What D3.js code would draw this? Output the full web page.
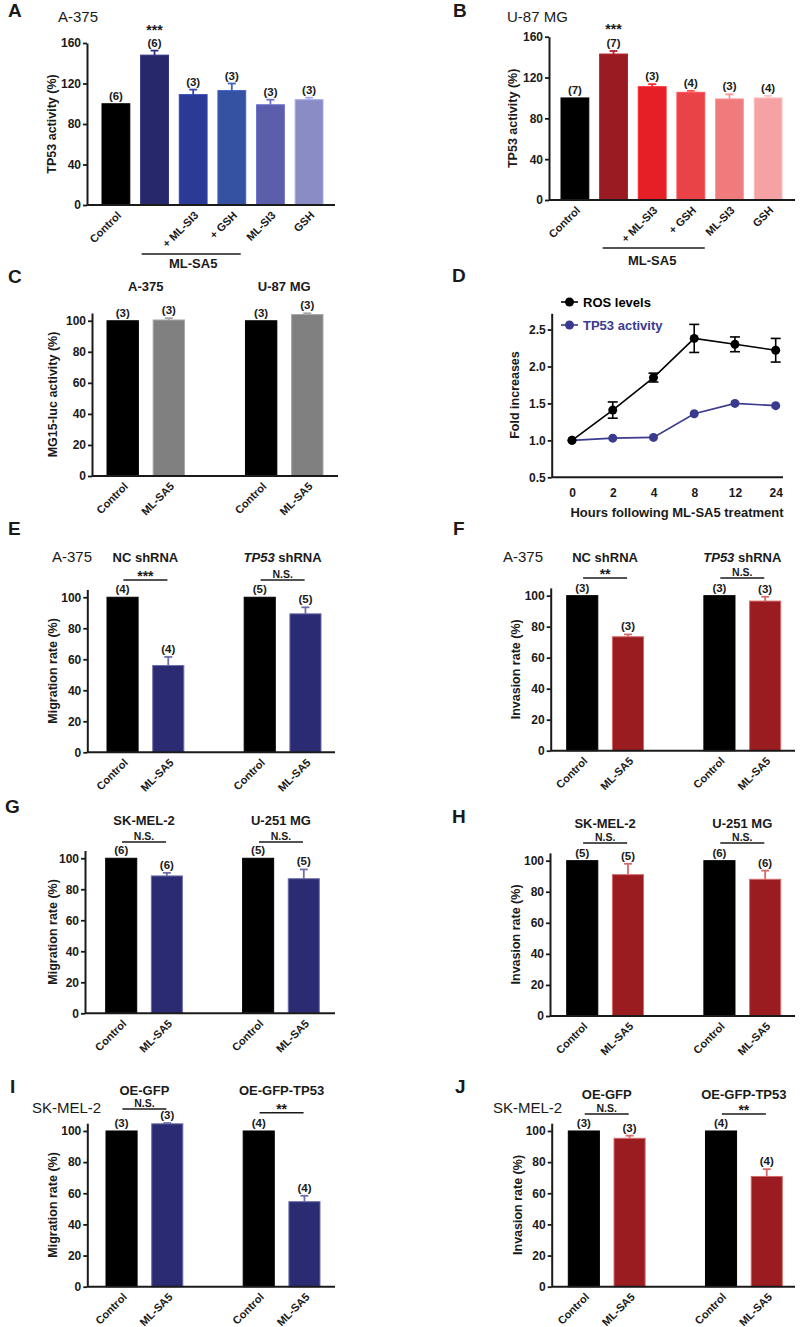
<!DOCTYPE html>
<html lang="en">
<meta charset="UTF-8">
<style>
    body{ margin:0; background:#fff; }
    svg{ display:block; font-family:"Liberation Sans", Arial, sans-serif; }
    .tick text{ font-weight:bold; font-size:12px; fill:#1a1a1a; }
    .tick line{ stroke:#1a1a1a; stroke-width:1.8px; }
    .domain{ stroke:#1a1a1a; stroke-width:2px; }
</style>
<body>
<svg width="800" height="1327" id="fig"></svg>
<script src="https://d3js.org/d3.v7.min.js"></script>
<script>
// ---------- data ----------
const aLabels = ["Control", "", "+ ML-SI3", "+ GSH", "ML-SI3", "GSH"];
const aValues = [100, 148, 109, 113, 99, 104];
const aErrors = [0, 4.5, 5, 7, 5, 2];
const aN = [6, 6, 3, 3, 3, 3];

const bLabels = ["Control", "", "+ ML-SI3", "+ GSH", "ML-SI3", "GSH"];
const bValues = [100, 143, 111, 105.5, 99, 100];
const bErrors = [0, 3, 2.5, 1.5, 4.5, 2];
const bN = [7, 7, 3, 4, 3, 4];

const pairLabels = ["Control", "ML-SA5"];

const cGroups = ["A-375", "U-87 MG"];
const cValues = [100, 100.5, 100, 104];
const cErrors = [0, 1.2, 0, 0.8];
const cN = [3, 3, 3, 3];

const dHours = ["0", "2", "4", "8", "12", "24"];
const dSeries = ["ROS levels", "TP53 activity"];
const dRos = [1.0, 1.41, 1.85, 2.38, 2.30, 2.22];
const dRosErr = [0, 0.11, 0.06, 0.19, 0.10, 0.16];
const dTp53 = [1.0, 1.03, 1.04, 1.36, 1.50, 1.47];
const dTp53Err = [0, 0.01, 0.01, 0.02, 0.02, 0.01];
const dTicks = [0.5, 1.0, 1.5, 2.0, 2.5];

const eGroups = ["NC shRNA", "TP53 shRNA"];
const eValues = [100, 56, 100, 89.3];
const eErrors = [0, 5.5, 0, 4.2];
const eN = [4, 4, 5, 5];
const eSig = ["***", "N.S."];

const fGroups = ["NC shRNA", "TP53 shRNA"];
const fValues = [100, 73.5, 100, 96.5];
const fErrors = [0, 1.5, 0, 2.8];
const fN = [3, 3, 3, 3];
const fSig = ["**", "N.S."];

const gGroups = ["SK-MEL-2", "U-251 MG"];
const gValues = [100, 88.6, 100, 86.8];
const gErrors = [0, 2, 0, 6];
const gN = [6, 6, 5, 5];
const gSig = ["N.S.", "N.S."];

const hGroups = ["SK-MEL-2", "U-251 MG"];
const hValues = [100, 91, 100, 88];
const hErrors = [0, 7, 0, 5.6];
const hN = [5, 5, 6, 6];
const hSig = ["N.S.", "N.S."];

const iGroups = ["OE-GFP", "OE-GFP-TP53"];
const iValues = [100, 104.6, 100, 54.6];
const iErrors = [0, 0.5, 0, 3.8];
const iN = [3, 3, 4, 4];
const iSig = ["N.S.", "**"];

const jGroups = ["OE-GFP", "OE-GFP-TP53"];
const jValues = [100, 95.3, 100, 70.8];
const jErrors = [0, 1.7, 0, 4.7];
const jN = [3, 3, 4, 4];
const jSig = ["N.S.", "**"];

const ticks160 = [0, 40, 80, 120, 160];
const ticks100 = [0, 20, 40, 60, 80, 100];

// ---------- colours ----------
const blueShades = ["#000000", "#27286b", "#2c3a97", "#3551a2", "#5a5eab", "#8a8dc5"];
const redShades = ["#000000", "#9a1b21", "#e61f26", "#ea4347", "#f07b7d", "#f4a2a3"];
const navy = "#2a2b72", navyEdge = "#6d6eaa";
const darkRed = "#9a1c20", darkRedEdge = "#d46a6a";
const ink = "#1a1a1a";

const svg = d3.select('#fig');

function txt(x, y, s, size, weight, anchor) {
    return svg.append("text").attr("x", x).attr("y", y)
        .attr("font-size", size + "px").attr("font-weight", weight || "bold")
        .attr("text-anchor", anchor || "start").attr("fill", ink).text(s);
}

function barChart(c) {
    const x = d3.scaleBand().domain(c.keys).range(c.barRange).paddingInner(c.pad).paddingOuter(0);
    const y = d3.scaleLinear().domain([0, c.yTopVal]).range([c.y0, c.yTopPx]);
    const g = svg.append("g");
    const cx = d => x(d.key) + x.bandwidth() / 2;

    g.selectAll("rect").data(c.items).join("rect")
        .attr("x", d => x(d.key)).attr("width", x.bandwidth())
        .attr("y", d => y(d.v)).attr("height", d => y(0) - y(d.v))
        .attr("fill", d => d.color).attr("stroke", d => d.edge).attr("stroke-width", 1);

    const eb = g.selectAll("g.err").data(c.items.filter(d => d.e > 0)).join("g").attr("class", "err");
    eb.append("line").attr("x1", cx).attr("x2", cx)
        .attr("y1", d => y(d.v)).attr("y2", d => y(d.v + d.e))
        .attr("stroke", d => d.edge).attr("stroke-width", 1.8);
    eb.append("line").attr("x1", d => cx(d) - 4).attr("x2", d => cx(d) + 4)
        .attr("y1", d => y(d.v + d.e)).attr("y2", d => y(d.v + d.e))
        .attr("stroke", d => d.edge).attr("stroke-width", 1.8);

    g.selectAll("text.n").data(c.items).join("text").attr("class", "n")
        .attr("x", cx).attr("y", d => y(d.v + d.e) - 4)
        .attr("text-anchor", "middle").attr("font-size", "11.5px").attr("font-weight", "bold")
        .attr("fill", ink).text(d => "(" + d.n + ")");

    g.append("line").attr("x1", c.ax).attr("x2", c.xEnd).attr("y1", c.y0).attr("y2", c.y0)
        .attr("stroke", ink).attr("stroke-width", 2);
    g.append("g").attr("transform", `translate(${c.ax},0)`)
        .call(d3.axisLeft(y).tickValues(c.ticks).tickSize(4).tickSizeOuter(0).tickPadding(2));

    g.selectAll("text.xl").data(c.items.filter(d => d.label)).join("text").attr("class", "xl")
        .attr("transform", d => `translate(${cx(d) + 6},${c.y0 + 11}) rotate(-45)`)
        .attr("text-anchor", "end").attr("font-size", "11px").attr("font-weight", "bold")
        .attr("fill", ink).text(d => d.label);

    g.append("text")
        .attr("transform", `translate(${c.titleX},${(c.y0 + c.yTopPx) / 2}) rotate(-90)`)
        .attr("text-anchor", "middle").attr("font-size", "12.5px").attr("font-weight", "bold")
        .attr("fill", ink).text(c.yTitle);
    return { x, y, g };
}

function sixItems(labels, values, errors, ns, colors) {
    return labels.map((l, i) => ({
        key: String(i), label: l, v: values[i], e: errors[i], n: ns[i],
        color: colors[i], edge: i === 0 ? "#000" : d3.color(colors[i]).brighter(0.5).formatHex()
    }));
}

const pairKeys = ["0", "1", "gap", "2", "3"];
function pairItems(values, errors, ns, color, edge) {
    return values.map((v, i) => ({
        key: ["0", "1", "2", "3"][i], label: pairLabels[i % 2], v: v, e: errors[i], n: ns[i],
        color: i % 2 === 0 ? "#000" : color, edge: i % 2 === 0 ? "#000" : edge
    }));
}

function groupHeaders(ch, groups, yHead, sig, ySig) {
    const bw = ch.x.bandwidth();
    [["0", "1"], ["2", "3"]].forEach((k, gi) => {
        const mid = (ch.x(k[0]) + ch.x(k[1]) + bw) / 2;
        const t = txt(mid, yHead, "", 13, "bold", "middle");
        const name = groups[gi];
        if (name.indexOf("TP53 shRNA") === 0) {
            t.append("tspan").attr("font-style", "italic").text("TP53");
            t.append("tspan").text(" shRNA");
        } else t.text(name);
        if (sig) {
            svg.append("line").attr("x1", mid - 22).attr("x2", mid + 22)
                .attr("y1", ySig[gi]).attr("y2", ySig[gi]).attr("stroke", ink).attr("stroke-width", 1.5);
            const s = sig[gi];
            if (s === "N.S.") txt(mid, ySig[gi] - 2, s, 10.5, "bold", "middle");
            else txt(mid, ySig[gi] + 1, s, 14, "bold", "middle");
        }
    });
}

// ---------- A ----------
txt(8, 17, "A", 19);
txt(58, 22, "A-375", 15, "normal");
const chA = barChart({
    keys: aLabels.map((d, i) => String(i)), items: sixItems(aLabels, aValues, aErrors, aN, blueShades),
    barRange: [102, 323], pad: 0.28, ax: 87, xEnd: 335,
    y0: 205, yTopPx: 43, yTopVal: 160, ticks: ticks160, titleX: 56, yTitle: "TP53 activity (%)"
});
txt(chA.x("1") + chA.x.bandwidth() / 2, chA.y(aValues[1] + aErrors[1]) - 16, "***", 14, "bold", "middle");
svg.append("line").attr("x1", chA.x("1") + 1).attr("x2", chA.x("3") + chA.x.bandwidth() - 5)
    .attr("y1", 254).attr("y2", 254).attr("stroke", ink).attr("stroke-width", 1.5);
txt((chA.x("1") + chA.x("3") + chA.x.bandwidth()) / 2, 268, "ML-SA5", 13, "bold", "middle");

// ---------- B ----------
txt(453, 17, "B", 19);
txt(507, 22, "U-87 MG", 15, "normal");
const chB = barChart({
    keys: bLabels.map((d, i) => String(i)), items: sixItems(bLabels, bValues, bErrors, bN, redShades),
    barRange: [561, 782], pad: 0.28, ax: 549, xEnd: 795,
    y0: 200, yTopPx: 36.7, yTopVal: 160, ticks: ticks160, titleX: 517, yTitle: "TP53 activity (%)"
});
txt(chB.x("1") + chB.x.bandwidth() / 2, chB.y(bValues[1] + bErrors[1]) - 17, "***", 14, "bold", "middle");
svg.append("line").attr("x1", chB.x("1") + 3).attr("x2", chB.x("3") + chB.x.bandwidth())
    .attr("y1", 248).attr("y2", 248).attr("stroke", ink).attr("stroke-width", 1.5);
txt((chB.x("1") + chB.x("3") + chB.x.bandwidth()) / 2, 265, "ML-SA5", 13, "bold", "middle");

// ---------- C ----------
txt(8, 283, "C", 19);
const chC = barChart({
    keys: pairKeys, items: pairItems(cValues, cErrors, cN, "#808080", "#a6a6a6"),
    barRange: [107, 323], pad: 0.32, ax: 92, xEnd: 338,
    y0: 476, yTopPx: 313, yTopVal: 105, ticks: ticks100, titleX: 57, yTitle: "MG15-luc activity (%)"
});
groupHeaders(chC, cGroups, 291, null, null);

// ---------- D ----------
txt(452, 282, "D", 19);
(function () {
    const x = d3.scalePoint().domain(dHours).range([572, 775.7]);
    const y = d3.scaleLinear().domain([0.5, 2.72]).range([477.3, 313.3]);
    const g = svg.append("g");
    const series = [
        { name: dSeries[0], v: dRos, e: dRosErr, color: "#000000" },
        { name: dSeries[1], v: dTp53, e: dTp53Err, color: "#3a3a8e" }
    ];
    const line = d3.line().x((d, i) => x(dHours[i])).y(d => y(d));
    // TP53 first, ROS drawn over it
    series.slice().reverse().forEach(s => {
        g.append("path").attr("d", line(s.v)).attr("fill", "none")
            .attr("stroke", s.color).attr("stroke-width", 1.6);
        s.v.forEach((v, i) => {
            if (s.e[i] > 0.03) {
                const px = x(dHours[i]);
                g.append("line").attr("x1", px).attr("x2", px).attr("y1", y(v - s.e[i])).attr("y2", y(v + s.e[i]))
                    .attr("stroke", s.color).attr("stroke-width", 1.6);
                [v - s.e[i], v + s.e[i]].forEach(t => g.append("line")
                    .attr("x1", px - 5).attr("x2", px + 5).attr("y1", y(t)).attr("y2", y(t))
                    .attr("stroke", s.color).attr("stroke-width", 1.6));
            }
        });
        g.selectAll(null).data(s.v).join("circle")
            .attr("cx", (d, i) => x(dHours[i])).attr("cy", d => y(d)).attr("r", 4.5).attr("fill", s.color);
    });
    g.append("g").attr("transform", "translate(551.7,0)")
        .call(d3.axisLeft(y).tickValues(dTicks).tickFormat(d3.format(".1f")).tickSize(4).tickSizeOuter(0).tickPadding(2));
    g.append("line").attr("x1", 551.7).attr("x2", 783).attr("y1", 477.3).attr("y2", 477.3)
        .attr("stroke", ink).attr("stroke-width", 2);
    const xa = g.append("g").attr("transform", "translate(0,477.3)")
        .call(d3.axisBottom(x).tickSize(0).tickPadding(11));
    xa.select(".domain").remove();
    g.append("text").attr("x", 677).attr("y", 517).attr("text-anchor", "middle")
        .attr("font-size", "13px").attr("font-weight", "bold").attr("fill", ink)
        .text("Hours following ML-SA5 treatment");
    g.append("text").attr("transform", "translate(519,395) rotate(-90)").attr("text-anchor", "middle")
        .attr("font-size", "12.5px").attr("font-weight", "bold").attr("fill", ink).text("Fold increases");
    // legend
    series.forEach((s, i) => {
        const ly = 302 + i * 23;
        g.append("line").attr("x1", 561).attr("x2", 578).attr("y1", ly).attr("y2", ly)
            .attr("stroke", s.color).attr("stroke-width", 1.6);
        g.append("circle").attr("cx", 569.5).attr("cy", ly).attr("r", 4.5).attr("fill", s.color);
        g.append("text").attr("x", 583).attr("y", ly + 4.5).attr("font-size", "13px")
            .attr("font-weight", "bold").attr("fill", s.color).text(s.name);
    });
})();

// ---------- E ----------
txt(8, 535, "E", 19);
txt(52, 562, "A-375", 15, "normal");
const chE = barChart({
    keys: pairKeys, items: pairItems(eValues, eErrors, eN, navy, navyEdge),
    barRange: [107, 321], pad: 0.32, ax: 87.3, xEnd: 335,
    y0: 752.3, yTopPx: 589.5, yTopVal: 105, ticks: ticks100, titleX: 57, yTitle: "Migration rate (%)"
});
groupHeaders(chE, eGroups, 562, eSig, [580, 580]);

// ---------- F ----------
txt(453, 535, "F", 19);
txt(503, 562, "A-375", 15, "normal");
const chF = barChart({
    keys: pairKeys, items: pairItems(fValues, fErrors, fN, darkRed, darkRedEdge),
    barRange: [566.7, 780.7], pad: 0.32, ax: 550.7, xEnd: 795,
    y0: 750.7, yTopPx: 587.9, yTopVal: 105, ticks: ticks100, titleX: 520, yTitle: "Invasion rate (%)"
});
groupHeaders(chF, fGroups, 562, fSig, [578, 578]);

// ---------- G ----------
txt(5, 813, "G", 19);
const chG = barChart({
    keys: pairKeys, items: pairItems(gValues, gErrors, gN, navy, navyEdge),
    barRange: [105.7, 319.3], pad: 0.32, ax: 85, xEnd: 335,
    y0: 1013.3, yTopPx: 850.5, yTopVal: 105, ticks: ticks100, titleX: 57, yTitle: "Migration rate (%)"
});
groupHeaders(chG, gGroups, 825, gSig, [842, 842]);

// ---------- H ----------
txt(452, 823, "H", 19);
const chH = barChart({
    keys: pairKeys, items: pairItems(hValues, hErrors, hN, darkRed, darkRedEdge),
    barRange: [566.7, 780.7], pad: 0.32, ax: 550, xEnd: 795,
    y0: 1016, yTopPx: 852.9, yTopVal: 105, ticks: ticks100, titleX: 520, yTitle: "Invasion rate (%)"
});
groupHeaders(chH, hGroups, 828, hSig, [843, 843]);

// ---------- I ----------
txt(10, 1093, "I", 19);
txt(32, 1113, "SK-MEL-2", 15, "normal");
const chI = barChart({
    keys: pairKeys, items: pairItems(iValues, iErrors, iN, navy, navyEdge),
    barRange: [106, 320], pad: 0.32, ax: 87.3, xEnd: 335,
    y0: 1286.7, yTopPx: 1123.2, yTopVal: 105, ticks: ticks100, titleX: 57, yTitle: "Migration rate (%)"
});
groupHeaders(chI, iGroups, 1095, iSig, [1109, 1112.7]);

// ---------- J ----------
txt(455, 1093, "J", 19);
txt(493, 1113, "SK-MEL-2", 15, "normal");
const chJ = barChart({
    keys: pairKeys, items: pairItems(jValues, jErrors, jN, darkRed, darkRedEdge),
    barRange: [568.3, 782.3], pad: 0.32, ax: 551.7, xEnd: 795,
    y0: 1286.7, yTopPx: 1123.2, yTopVal: 105, ticks: ticks100, titleX: 522, yTitle: "Invasion rate (%)"
});
groupHeaders(chJ, jGroups, 1099, jSig, [1114, 1114]);
</script>
</body>
</html>
